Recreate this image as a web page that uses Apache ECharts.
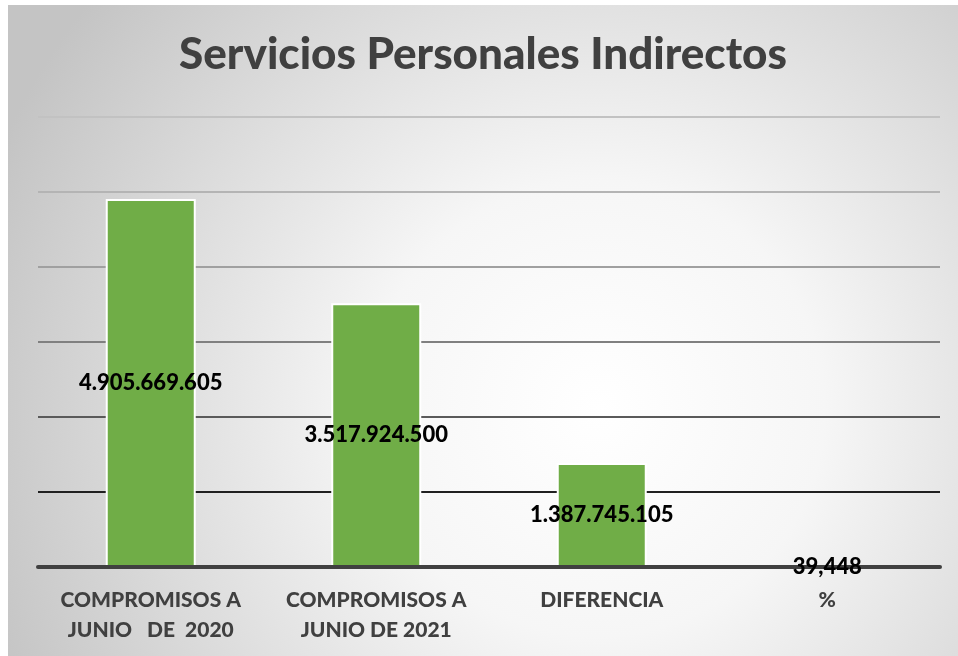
<!DOCTYPE html>
<html>
<head>
<meta charset="utf-8">
<script src="https://cdn.jsdelivr.net/npm/echarts@6/dist/echarts.min.js"></script>
<style>
  html, body { margin: 0; padding: 0; background: #fff; }
  #chart { position: absolute; left: 8px; top: 5px; width: 950px; height: 651px; }
</style>
</head>
<body>
<div id="chart"></div>
<script>
// datos del gráfico
const titleText = 'Servicios Personales Indirectos';
const categories = ['COMPROMISOS A\nJUNIO   DE  2020', 'COMPROMISOS A\nJUNIO DE 2021', 'DIFERENCIA', '%'];
const values = [4905669605, 3517924500, 1387745105, 39.448];
const yTicks = [0, 1000000000, 2000000000, 3000000000, 4000000000, 5000000000, 6000000000];

// formato con puntos de miles y coma decimal
const formatValue = function (v) {
    const parts = String(v).split('.');
    const ent = parts[0].replace(/\B(?=(\d{3})+(?!\d))/g, '.');
    return parts.length > 1 ? ent + ',' + parts[1] : ent;
};

const font = 'Lato, "Open Sans", sans-serif';
const chart = echarts.init(document.getElementById('chart'));

const option = {
    backgroundColor: {
        type: 'radial',
        x: 0.62,
        y: 0.62,
        r: 1,
        colorStops: [
            { offset: 0, color: '#ffffff' },
            { offset: 0.35, color: '#f6f6f6' },
            { offset: 1, color: '#c4c4c4' }
        ]
    },
    title: {
        text: titleText,
        left: 'center',
        top: 23,
        textStyle: {
            fontFamily: font,
            fontSize: 44,
            fontWeight: 900,
            color: '#404040'
        }
    },
    grid: {
        left: 30,
        right: 18,
        top: 112,
        bottom: 89
    },
    xAxis: {
        type: 'category',
        data: categories,
        z: 3,
        axisLine: { lineStyle: { color: '#404040', width: 4 } },
        axisTick: { show: false },
        axisLabel: {
            interval: 0,
            margin: 18,
            fontFamily: font,
            fontSize: 21,
            fontWeight: 900,
            color: '#404040',
            lineHeight: 30
        }
    },
    yAxis: {
        type: 'value',
        min: yTicks[0],
        max: yTicks[yTicks.length - 1],
        interval: yTicks[1] - yTicks[0],
        axisLine: { show: false },
        axisTick: { show: false },
        axisLabel: { show: false },
        splitLine: {
            lineStyle: {
                width: 2,
                color: ['#404040', '#202020', '#5a5a5a', '#808080', '#a0a0a0', '#b4b4b4', '#c2c2c2']
            }
        }
    },
    series: [
        {
            type: 'bar',
            data: values,
            barWidth: 90,
            z: 2,
            itemStyle: {
                color: '#70AD47',
                borderColor: '#ffffff',
                borderWidth: 2
            }
        },
        {
            // solo etiquetas, por encima del eje
            type: 'bar',
            data: values,
            barWidth: 90,
            barGap: '-100%',
            z: 4,
            silent: true,
            itemStyle: { color: 'rgba(0,0,0,0)' },
            label: {
                show: true,
                position: 'inside',
                fontFamily: font,
                fontSize: 22,
                fontWeight: 900,
                color: '#000000',
                formatter: function (p) { return formatValue(p.value); }
            }
        }
    ]
};

chart.setOption(option);
</script>
</body>
</html>
